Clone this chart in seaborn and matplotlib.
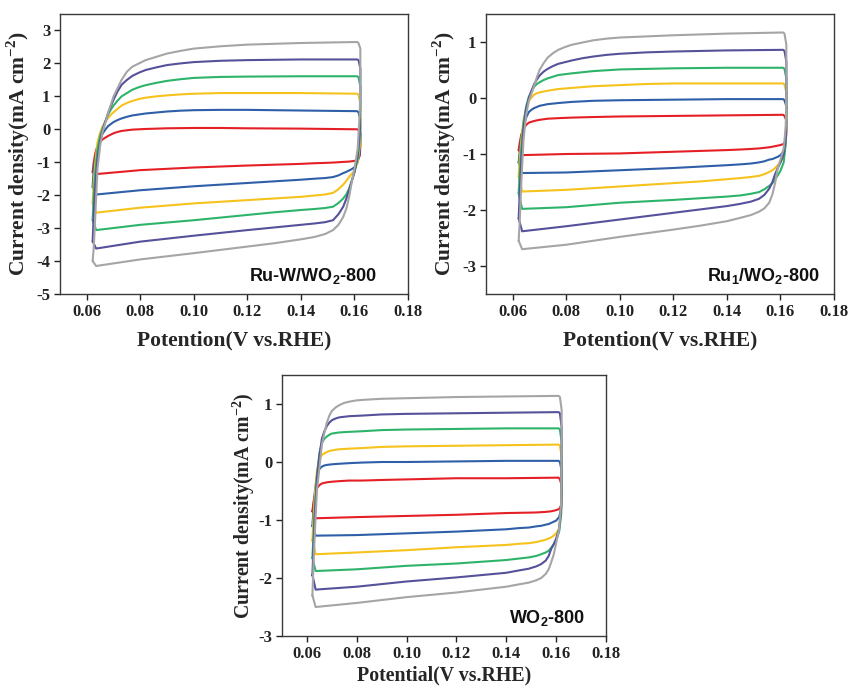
import numpy as np
import pandas as pd
import matplotlib
matplotlib.use("Agg")
import matplotlib.pyplot as plt
import seaborn as sns

# Potential grids (V vs. RHE) shared by every loop: forward and reverse sweeps
E_FWD = [0.0622, 0.0626, 0.0632, 0.064, 0.065, 0.066, 0.067, 0.068, 0.069, 0.070,
         0.0715, 0.073, 0.075, 0.077, 0.0795, 0.082, 0.086, 0.090, 0.095, 0.100,
         0.110, 0.120, 0.140, 0.161]
E_REV = [0.1615, 0.1622, 0.1622, 0.162, 0.1612, 0.160, 0.159, 0.158, 0.157, 0.1558,
         0.154, 0.152, 0.149, 0.145, 0.140, 0.130, 0.120, 0.100, 0.080, 0.0635]

SCANS = ["s1", "s2", "s3", "s4", "s5", "s6"]
COLORS = ["#E41F26", "#2F5FA8", "#F6C21C", "#2DB46A", "#55519A", "#A5A5A7"]

# Ru-W/WO2-800 current densities (mA cm-2)
ruw_fwd = [
    [-1.3, -1.0, -0.72, -0.5, -0.38, -0.3, -0.25, -0.2, -0.16, -0.12, -0.08, -0.05, -0.03, -0.01, 0.0, 0.01, 0.02, 0.03, 0.035, 0.04, 0.04, 0.03, 0.02, 0.0],
    [-1.75, -1.2, -0.85, -0.55, -0.3, -0.12, 0.0, 0.1, 0.16, 0.22, 0.28, 0.33, 0.38, 0.42, 0.45, 0.48, 0.51, 0.54, 0.565, 0.58, 0.59, 0.59, 0.57, 0.55],
    [-2.25, -1.6, -1.0, -0.4, -0.1, 0.1, 0.23, 0.35, 0.44, 0.52, 0.62, 0.72, 0.8, 0.86, 0.92, 0.96, 1.0, 1.03, 1.06, 1.08, 1.1, 1.1, 1.1, 1.08],
    [-2.75, -2.0, -1.3, -0.6, -0.2, 0.05, 0.25, 0.45, 0.6, 0.72, 0.87, 1.0, 1.1, 1.2, 1.28, 1.34, 1.41, 1.47, 1.52, 1.56, 1.59, 1.6, 1.61, 1.61],
    [-3.4, -2.6, -1.7, -0.9, -0.35, 0.0, 0.25, 0.5, 0.7, 0.9, 1.15, 1.35, 1.5, 1.62, 1.72, 1.8, 1.88, 1.95, 2.0, 2.04, 2.08, 2.1, 2.12, 2.12],
    [-4.0, -3.6, -2.6, -1.2, -0.5, -0.05, 0.22, 0.5, 0.75, 1.0, 1.25, 1.5, 1.75, 1.9, 2.0, 2.1, 2.2, 2.3, 2.38, 2.45, 2.52, 2.57, 2.62, 2.65],
]
ruw_rev = [
    [-0.02, -0.12, -0.5, -0.8, -0.93, -0.96, -0.97, -0.98, -0.985, -0.99, -1.0, -1.01, -1.02, -1.03, -1.05, -1.075, -1.1, -1.16, -1.24, -1.36],
    [0.52, 0.3, -0.2, -0.7, -1.0, -1.15, -1.21, -1.25, -1.29, -1.33, -1.4, -1.45, -1.48, -1.5, -1.53, -1.58, -1.63, -1.73, -1.85, -1.98],
    [1.05, 0.8, 0.2, -0.5, -1.0, -1.25, -1.35, -1.45, -1.56, -1.68, -1.82, -1.93, -1.98, -2.01, -2.05, -2.1, -2.15, -2.25, -2.38, -2.53],
    [1.58, 1.3, 0.6, -0.3, -0.9, -1.3, -1.55, -1.8, -1.97, -2.1, -2.24, -2.35, -2.39, -2.42, -2.45, -2.52, -2.6, -2.76, -2.9, -3.06],
    [2.1, 1.85, 1.0, 0.0, -0.8, -1.3, -1.58, -1.85, -2.1, -2.35, -2.58, -2.76, -2.82, -2.86, -2.9, -2.98, -3.06, -3.23, -3.41, -3.62],
    [2.62, 2.45, 1.6, 0.5, -0.6, -1.2, -1.6, -2.05, -2.4, -2.66, -2.9, -3.06, -3.18, -3.27, -3.34, -3.46, -3.56, -3.76, -3.95, -4.15],
]

# Ru1/WO2-800
ru1_fwd = [
    [-0.93, -0.8, -0.65, -0.55, -0.48, -0.44, -0.425, -0.41, -0.4, -0.39, -0.38, -0.37, -0.365, -0.36, -0.355, -0.35, -0.345, -0.34, -0.335, -0.33, -0.325, -0.32, -0.31, -0.30],
    [-1.15, -0.95, -0.7, -0.5, -0.35, -0.25, -0.21, -0.18, -0.16, -0.14, -0.125, -0.11, -0.1, -0.09, -0.08, -0.07, -0.06, -0.05, -0.045, -0.04, -0.035, -0.03, -0.02, -0.02],
    [-1.4, -1.1, -0.75, -0.4, -0.2, -0.05, 0.01, 0.06, 0.085, 0.1, 0.115, 0.13, 0.145, 0.16, 0.17, 0.18, 0.195, 0.21, 0.22, 0.23, 0.25, 0.26, 0.26, 0.26],
    [-1.7, -1.35, -0.9, -0.45, -0.15, 0.02, 0.12, 0.2, 0.25, 0.28, 0.32, 0.35, 0.38, 0.41, 0.425, 0.44, 0.46, 0.48, 0.495, 0.51, 0.52, 0.53, 0.54, 0.54],
    [-2.15, -1.7, -1.1, -0.55, -0.2, 0.0, 0.13, 0.25, 0.33, 0.4, 0.47, 0.52, 0.57, 0.61, 0.64, 0.67, 0.71, 0.74, 0.77, 0.79, 0.815, 0.83, 0.85, 0.86],
    [-2.55, -2.2, -1.5, -0.75, -0.3, -0.05, 0.08, 0.22, 0.37, 0.5, 0.62, 0.72, 0.8, 0.86, 0.91, 0.95, 0.99, 1.03, 1.06, 1.08, 1.1, 1.12, 1.15, 1.17],
]
ru1_rev = [
    [-0.32, -0.4, -0.6, -0.75, -0.82, -0.84, -0.85, -0.86, -0.87, -0.88, -0.89, -0.9, -0.91, -0.92, -0.93, -0.945, -0.96, -0.99, -1.0, -1.02],
    [-0.04, -0.15, -0.5, -0.8, -0.95, -1.02, -1.05, -1.07, -1.09, -1.1, -1.13, -1.15, -1.17, -1.185, -1.2, -1.225, -1.25, -1.29, -1.33, -1.34],
    [0.24, 0.1, -0.35, -0.8, -1.05, -1.15, -1.2, -1.25, -1.29, -1.32, -1.36, -1.39, -1.41, -1.43, -1.45, -1.49, -1.52, -1.58, -1.64, -1.67],
    [0.52, 0.35, -0.2, -0.8, -1.15, -1.3, -1.38, -1.45, -1.52, -1.57, -1.63, -1.68, -1.71, -1.74, -1.76, -1.79, -1.82, -1.87, -1.95, -1.98],
    [0.84, 0.65, 0.0, -0.7, -1.0, -1.15, -1.25, -1.36, -1.5, -1.62, -1.73, -1.8, -1.85, -1.89, -1.93, -1.99, -2.05, -2.17, -2.29, -2.38],
    [1.15, 0.95, 0.2, -0.5, -0.9, -1.1, -1.25, -1.52, -1.72, -1.87, -1.97, -2.03, -2.09, -2.14, -2.2, -2.28, -2.35, -2.48, -2.62, -2.70],
]

# WO2-800
wo2_fwd = [
    [-0.85, -0.7, -0.55, -0.45, -0.4, -0.37, -0.36, -0.35, -0.345, -0.34, -0.335, -0.33, -0.325, -0.32, -0.32, -0.32, -0.315, -0.31, -0.305, -0.30, -0.29, -0.28, -0.28, -0.27],
    [-1.1, -0.85, -0.5, -0.25, -0.12, -0.08, -0.06, -0.05, -0.045, -0.04, -0.035, -0.03, -0.025, -0.02, -0.015, -0.01, -0.005, 0.0, 0.0, 0.0, 0.005, 0.01, 0.02, 0.02],
    [-1.35, -1.0, -0.55, -0.15, 0.05, 0.12, 0.15, 0.17, 0.19, 0.2, 0.21, 0.22, 0.225, 0.23, 0.235, 0.24, 0.25, 0.26, 0.265, 0.27, 0.275, 0.28, 0.29, 0.30],
    [-1.65, -1.3, -0.8, -0.25, 0.15, 0.33, 0.4, 0.44, 0.47, 0.49, 0.5, 0.51, 0.515, 0.52, 0.525, 0.53, 0.54, 0.55, 0.555, 0.56, 0.565, 0.57, 0.58, 0.58],
    [-1.95, -1.5, -0.9, -0.3, 0.1, 0.4, 0.53, 0.62, 0.68, 0.72, 0.75, 0.77, 0.78, 0.79, 0.795, 0.8, 0.81, 0.82, 0.825, 0.83, 0.835, 0.84, 0.85, 0.86],
    [-2.3, -1.8, -1.2, -0.5, -0.1, 0.3, 0.5, 0.68, 0.8, 0.88, 0.94, 0.98, 1.02, 1.04, 1.06, 1.07, 1.08, 1.09, 1.095, 1.1, 1.11, 1.12, 1.13, 1.14],
]
wo2_rev = [
    [-0.3, -0.4, -0.6, -0.75, -0.81, -0.83, -0.84, -0.85, -0.855, -0.86, -0.865, -0.87, -0.873, -0.876, -0.88, -0.895, -0.91, -0.93, -0.95, -0.97],
    [0.0, -0.15, -0.5, -0.8, -0.95, -1.01, -1.03, -1.05, -1.07, -1.08, -1.1, -1.11, -1.13, -1.14, -1.16, -1.18, -1.2, -1.23, -1.26, -1.27],
    [0.28, 0.1, -0.4, -0.9, -1.15, -1.23, -1.27, -1.3, -1.32, -1.34, -1.36, -1.38, -1.4, -1.41, -1.43, -1.45, -1.47, -1.52, -1.56, -1.59],
    [0.56, 0.35, -0.3, -0.9, -1.2, -1.35, -1.42, -1.48, -1.53, -1.56, -1.59, -1.62, -1.645, -1.665, -1.69, -1.72, -1.75, -1.79, -1.85, -1.88],
    [0.84, 0.6, -0.1, -0.8, -1.15, -1.32, -1.42, -1.5, -1.62, -1.7, -1.76, -1.8, -1.84, -1.87, -1.91, -1.95, -1.99, -2.06, -2.15, -2.2],
    [1.12, 0.9, 0.1, -0.7, -1.15, -1.4, -1.6, -1.73, -1.85, -1.93, -2.0, -2.04, -2.08, -2.11, -2.15, -2.2, -2.25, -2.33, -2.43, -2.5],
]

X_TICKS = [0.06, 0.08, 0.10, 0.12, 0.14, 0.16, 0.18]


def loops_frame(fwd, rev):
    rows = []
    for name, jf, jr in zip(SCANS, fwd, rev):
        E = E_FWD + E_REV + [E_FWD[0]]
        J = jf + jr + [jf[0]]
        for k, (e, j) in enumerate(zip(E, J)):
            rows.append({"scan": name, "step": k, "E": e, "j": j})
    return pd.DataFrame(rows)


sns.set_theme(style="ticks")
plt.rcParams.update({
    "font.family": ["Liberation Serif", "DejaVu Serif"],
    "font.weight": "bold",
    "axes.labelweight": "bold",
    "axes.unicode_minus": False,
    "mathtext.fontset": "custom",
    "mathtext.rm": "Liberation Serif:bold",
    "mathtext.bf": "Liberation Serif:bold",
    "mathtext.sf": "Liberation Sans:bold",
    "lines.solid_joinstyle": "round",
})

fig = plt.figure(figsize=(8.5, 6.88), dpi=100)
fig.patch.set_facecolor("white")

panels = [
    dict(rect=[60 / 850, 1 - 294 / 688, 348 / 850, 280 / 688], fwd=ruw_fwd, rev=ruw_rev,
         ylim=(-5, 3.5), yticks=list(range(-5, 4)), lsize=15.5, xpad=8, ypad=3,
         xlabel="Potention(V vs.RHE)", tag=r"Ru-W/WO$_\mathsf{2}$-800", tagpos=(0.91, 0.045)),
    dict(rect=[486 / 850, 1 - 294 / 688, 348 / 850, 280 / 688], fwd=ru1_fwd, rev=ru1_rev,
         ylim=(-3.5, 1.5), yticks=list(range(-3, 2)), lsize=15.5, xpad=8, ypad=3,
         xlabel="Potention(V vs.RHE)", tag=r"Ru$_\mathsf{1}$/WO$_\mathsf{2}$-800", tagpos=(0.96, 0.045)),
    dict(rect=[282 / 850, 1 - 636 / 688, 324 / 850, 261 / 688], fwd=wo2_fwd, rev=wo2_rev,
         ylim=(-3, 1.5), yticks=list(range(-3, 2)), lsize=14.3, xpad=3, ypad=1,
         xlabel="Potential(V vs.RHE)", tag=r"WO$_\mathsf{2}$-800", tagpos=(0.935, 0.05)),
]

for p in panels:
    ax = fig.add_axes(p["rect"])
    df = loops_frame(p["fwd"], p["rev"])
    sns.lineplot(data=df, x="E", y="j", hue="scan", hue_order=SCANS,
                 palette=COLORS, sort=False, estimator=None, units="scan",
                 linewidth=1.5, legend=False, ax=ax)
    ax.set_xlim(0.05, 0.18)
    ax.set_ylim(*p["ylim"])
    ax.set_xticks(X_TICKS)
    ax.set_xticklabels([f"{t:.2f}" for t in X_TICKS])
    ax.set_yticks(p["yticks"])
    ax.set_yticklabels([str(t) for t in p["yticks"]])
    ax.tick_params(direction="out", length=4, width=1, labelsize=12,
                   colors="#222222", pad=3)
    for lab in ax.get_xticklabels() + ax.get_yticklabels():
        lab.set_fontweight("bold")
    for s in ax.spines.values():
        s.set_visible(True)
        s.set_color("#3a3a3a")
        s.set_linewidth(1.0)
    ax.set_xlabel(p["xlabel"], fontsize=p["lsize"], fontweight="bold",
                  labelpad=p["xpad"])
    ax.set_ylabel(r"Current density(mA cm$^{\mathrm{-2}}$)", fontsize=p["lsize"],
                  fontweight="bold", labelpad=p["ypad"])
    ax.text(p["tagpos"][0], p["tagpos"][1], p["tag"], transform=ax.transAxes,
            ha="right", va="baseline", fontsize=13, fontweight="bold",
            family="Liberation Sans", color="#111111")

fig.savefig("out.png", dpi=100, facecolor="white")
